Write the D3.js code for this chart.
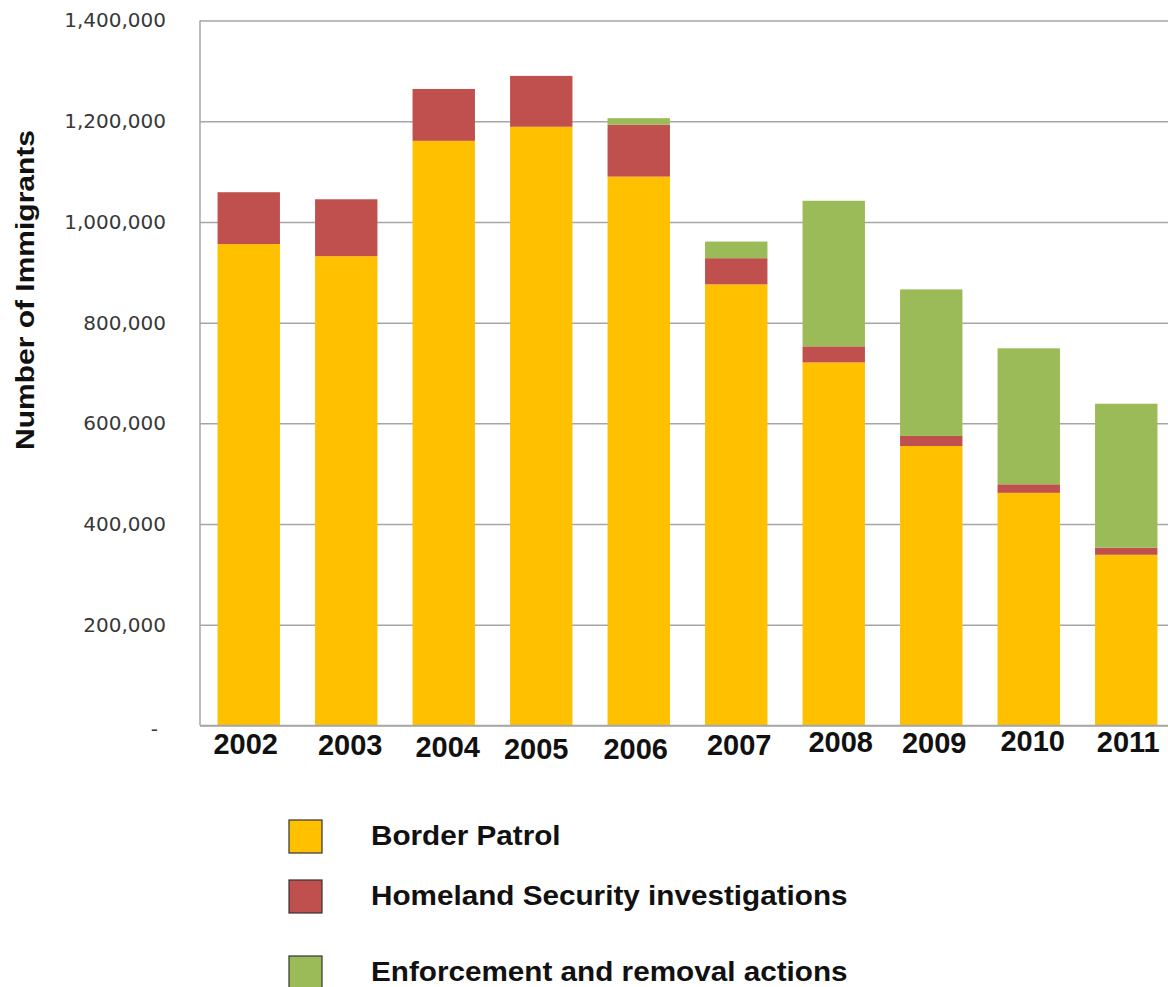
<!DOCTYPE html>
<html>
<head>
<meta charset="utf-8">
<script src="https://cdn.jsdelivr.net/npm/d3@7"></script>
<style>
  body { margin: 0; background: #fff; }
  svg { display: block; }
</style>
</head>
<body>
<svg id="chart" width="1168" height="987"></svg>
<script>
// values
const years = ['2002', '2003', '2004', '2005', '2006', '2007', '2008', '2009', '2010', '2011'];
const borderPatrol = [956000, 932000, 1161000, 1189000, 1090000, 876000, 721000, 555000, 462000, 339000];
const hsiInvestigations = [103000, 113000, 103000, 101000, 103000, 52000, 32000, 20000, 17000, 14000];
const removalActions = [0, 0, 0, 0, 13000, 33000, 289000, 291000, 270000, 286000];
const seriesNames = ['Border Patrol', 'Homeland Security investigations', 'Enforcement and removal actions'];
const yTicks = [0, 200000, 400000, 600000, 800000, 1000000, 1200000, 1400000];

const colors = ['#FFC000', '#C0504D', '#9BBB59'];
const keys = ['bp', 'hsi', 'era'];

const table = years.map((y, i) => ({
    year: y, bp: borderPatrol[i], hsi: hsiInvestigations[i], era: removalActions[i]
}));

const svg = d3.select('#chart');
const plot = {l: 200, t: 20.5, b: 725.5, r: 1175};

const x = d3.scaleBand()
    .domain(years)
    .range([plot.l, plot.r])
    .paddingInner(0.36)
    .paddingOuter(0.18);

const y = d3.scaleLinear()
    .domain([0, 1400000])
    .range([plot.b, plot.t]);

// gridlines
svg.append('g')
    .attr('class', 'grid')
    .attr('transform', `translate(${plot.l},0)`)
    .call(d3.axisLeft(y).tickValues(yTicks).tickSize(-(plot.r - plot.l)).tickFormat(''))
    .call(g => g.select('.domain').remove())
    .selectAll('line')
    .attr('stroke', '#a6a6a6')
    .attr('stroke-width', 1.5);

// tick labels
svg.append('g')
    .attr('transform', `translate(${plot.l},0)`)
    .call(d3.axisLeft(y).tickValues(yTicks).tickSize(0).tickPadding(34)
        .tickFormat(d => d === 0 ? '-' : d3.format(',')(d)))
    .call(g => g.select('.domain').remove())
    .selectAll('text')
    .attr('font-family', '"DejaVu Sans", Verdana, sans-serif')
    .attr('font-size', 20)
    .attr('fill', '#383838')
    .attr('transform', d => d === 0 ? 'translate(-8,4)' : null);

// stacked bars
const stacked = d3.stack().keys(keys)(table);

svg.append('g')
    .selectAll('g')
    .data(stacked)
    .join('g')
    .attr('fill', (d, i) => colors[i])
    .selectAll('rect')
    .data(d => d)
    .join('rect')
    .attr('x', d => x(d.data.year))
    .attr('width', x.bandwidth())
    .attr('y', d => y(d[1]))
    .attr('height', d => y(d[0]) - y(d[1]));

// axis lines
svg.append('line')
    .attr('x1', plot.l).attr('x2', plot.l)
    .attr('y1', plot.t).attr('y2', plot.b)
    .attr('stroke', '#a6a6a6').attr('stroke-width', 1.5);
svg.append('line')
    .attr('x1', plot.l).attr('x2', plot.r)
    .attr('y1', plot.b).attr('y2', plot.b)
    .attr('stroke', '#a6a6a6').attr('stroke-width', 1.5);

// year labels (they wobble a bit in the original)
const labelDy = [0, 1, 3, 5, 5, 1, -2, -1, -3, -2];
const labelDx = [-3, 4, 4, -5, -3, 3, 7, 3, 4, 2];
svg.append('g')
    .selectAll('text')
    .data(years)
    .join('text')
    .attr('x', (d, i) => x(d) + x.bandwidth() / 2 + labelDx[i])
    .attr('y', (d, i) => 754 + labelDy[i])
    .attr('text-anchor', 'middle')
    .attr('font-family', 'Arial, "Liberation Sans", sans-serif')
    .attr('font-weight', 'bold')
    .attr('font-size', 29)
    .attr('fill', '#111')
    .text(d => d);

// y axis title
svg.append('text')
    .attr('transform', 'translate(34,290) rotate(-90)')
    .attr('text-anchor', 'middle')
    .attr('font-family', 'Arial, "Liberation Sans", sans-serif')
    .attr('font-weight', 'bold')
    .attr('font-size', 25)
    .attr('textLength', 320)
    .attr('lengthAdjust', 'spacingAndGlyphs')
    .attr('fill', '#111')
    .text('Number of Immigrants');

// legend
const legend = svg.append('g')
    .selectAll('g')
    .data(seriesNames)
    .join('g')
    .attr('transform', (d, i) => `translate(289,${[820, 880, 956][i]})`);

legend.append('rect')
    .attr('width', 33)
    .attr('height', 33)
    .attr('fill', (d, i) => colors[i])
    .attr('stroke', '#333')
    .attr('stroke-width', 1.2);

// legend text is a little wider than plain Arial in the original
legend.append('text')
    .attr('transform', 'translate(82,15) scale(1.06,1)')
    .attr('dy', '0.35em')
    .attr('font-family', 'Arial, "Liberation Sans", sans-serif')
    .attr('font-weight', 'bold')
    .attr('font-size', 28)
    .attr('fill', '#111')
    .text(d => d);
</script>
</body>
</html>
